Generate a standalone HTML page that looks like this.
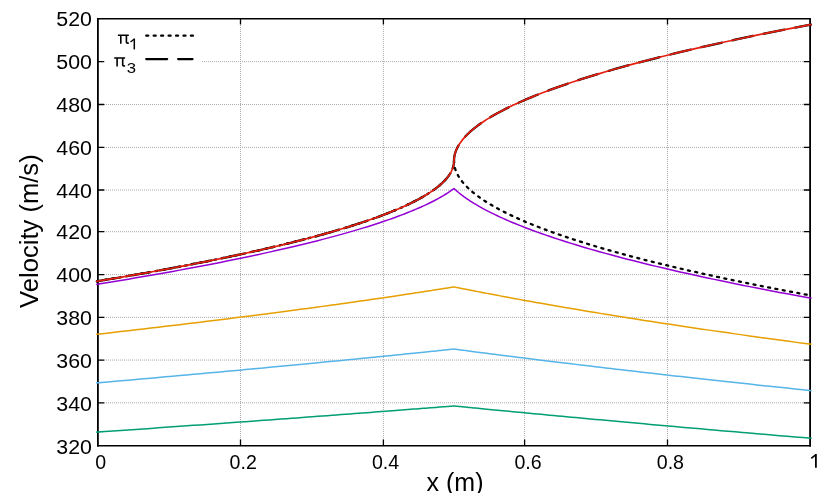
<!DOCTYPE html>
<html><head><meta charset="utf-8"><title>Velocity</title>
<style>
html,body{margin:0;padding:0;background:#fff;}
body{width:830px;height:493px;overflow:hidden;}
svg{display:block;will-change:transform;}
text{font-family:"Liberation Sans",sans-serif;fill:#000;}
</style></head><body>
<svg width="830" height="493" viewBox="0 0 830 493">
<rect width="830" height="493" fill="#fff"/>
<g stroke="#aaaaae" stroke-width="1" stroke-dasharray="1 1" fill="none">
<path d="M240.50,446.00 V18.90"/>
<path d="M383.40,446.00 V18.90"/>
<path d="M524.60,446.00 V18.90"/>
<path d="M667.50,446.00 V18.90"/>
<path d="M98.00,402.80 H810.00"/>
<path d="M98.00,360.05 H810.00"/>
<path d="M98.00,317.35 H810.00"/>
<path d="M98.00,274.60 H810.00"/>
<path d="M98.00,231.70 H810.00"/>
<path d="M98.00,190.00 H810.00"/>
<path d="M98.00,147.40 H810.00"/>
<path d="M98.00,104.50 H810.00"/>
<path d="M202.00,61.60 H810.00"/>
</g>
<g stroke="#000" stroke-width="1.30" fill="none">
<path d="M240.50,446 V439.4 M240.50,18.2 V24.6"/>
<path d="M383.40,446 V439.4 M383.40,18.2 V24.6"/>
<path d="M524.60,446 V439.4 M524.60,18.2 V24.6"/>
<path d="M667.50,446 V439.4 M667.50,18.2 V24.6"/>
<path d="M97.5,402.80 H104.25 M810.5,402.80 H803.75"/>
<path d="M97.5,360.05 H104.25 M810.5,360.05 H803.75"/>
<path d="M97.5,317.35 H104.25 M810.5,317.35 H803.75"/>
<path d="M97.5,274.60 H104.25 M810.5,274.60 H803.75"/>
<path d="M97.5,231.70 H104.25 M810.5,231.70 H803.75"/>
<path d="M97.5,190.00 H104.25 M810.5,190.00 H803.75"/>
<path d="M97.5,147.40 H104.25 M810.5,147.40 H803.75"/>
<path d="M97.5,104.50 H104.25 M810.5,104.50 H803.75"/>
<path d="M97.5,61.60 H104.25 M810.5,61.60 H803.75"/>
</g>
<g font-size="19.60">
<text transform="translate(92.00,453.55) scale(1.090,1)" text-anchor="end">320</text>
<text transform="translate(92.00,410.81) scale(1.090,1)" text-anchor="end">340</text>
<text transform="translate(92.00,367.97) scale(1.090,1)" text-anchor="end">360</text>
<text transform="translate(92.00,325.18) scale(1.090,1)" text-anchor="end">380</text>
<text transform="translate(92.00,282.34) scale(1.090,1)" text-anchor="end">400</text>
<text transform="translate(92.00,239.35) scale(1.090,1)" text-anchor="end">420</text>
<text transform="translate(92.00,197.56) scale(1.090,1)" text-anchor="end">440</text>
<text transform="translate(92.00,154.87) scale(1.090,1)" text-anchor="end">460</text>
<text transform="translate(92.00,111.88) scale(1.090,1)" text-anchor="end">480</text>
<text transform="translate(92.00,68.89) scale(1.090,1)" text-anchor="end">500</text>
<text transform="translate(92.00,26.10) scale(1.090,1)" text-anchor="end">520</text>
<text x="100.80" y="468.50" text-anchor="middle">0</text>
<text x="243.20" y="468.50" text-anchor="middle">0.2</text>
<text x="385.60" y="468.50" text-anchor="middle">0.4</text>
<text x="528.00" y="468.50" text-anchor="middle">0.6</text>
<text x="670.40" y="468.50" text-anchor="middle">0.8</text>
</g>
<path d="M815.9,454.0 V467.8" stroke="#000" stroke-width="1.8" fill="none"/><path d="M811.3,458.3 L815.6,454.9" stroke="#000" stroke-width="1.6" fill="none"/>
<text x="455.00" y="490.80" font-size="25.00" text-anchor="middle">x (m)</text>
<text transform="translate(37.50,231.10) rotate(-90)" font-size="25.60" text-anchor="middle">Velocity (m/s)</text>
<g fill="#000"><rect x="97" y="18.0" width="714" height="1.5"/><rect x="97" y="445.0" width="714" height="1.5"/><rect x="97.0" y="18" width="1.8" height="428.6"/><rect x="809.2" y="18" width="1.8" height="428.6"/></g>
<g fill="none" stroke-linejoin="round" stroke-linecap="butt">
<path d="M96.93,284.32 L104.91,283.03 L112.80,281.74 L120.60,280.45 L128.31,279.16 L135.93,277.86 L143.45,276.57 L150.89,275.28 L158.24,273.99 L165.50,272.70 L172.66,271.41 L179.74,270.12 L186.73,268.83 L193.63,267.54 L200.43,266.25 L207.15,264.96 L213.78,263.67 L220.31,262.39 L226.76,261.10 L233.11,259.81 L239.38,258.53 L245.56,257.24 L251.64,255.96 L257.64,254.68 L263.54,253.39 L269.36,252.11 L275.08,250.83 L280.72,249.56 L286.26,248.28 L291.72,247.00 L297.08,245.73 L302.36,244.46 L307.54,243.19 L312.63,241.92 L317.64,240.65 L322.55,239.39 L327.37,238.13 L332.11,236.87 L336.75,235.61 L341.30,234.36 L345.77,233.11 L350.14,231.86 L354.42,230.62 L358.61,229.38 L362.72,228.14 L366.73,226.91 L370.65,225.68 L374.48,224.46 L378.22,223.24 L381.87,222.02 L385.44,220.82 L388.91,219.62 L392.29,218.42 L395.58,217.23 L398.78,216.05 L401.89,214.88 L404.91,213.72 L407.84,212.57 L410.68,211.42 L413.43,210.29 L416.09,209.17 L418.66,208.06 L421.14,206.96 L423.53,205.88 L425.83,204.81 L428.03,203.76 L430.15,202.73 L432.18,201.71 L434.12,200.72 L435.97,199.75 L437.73,198.80 L439.39,197.88 L440.97,196.99 L442.46,196.12 L443.86,195.29 L445.16,194.50 L446.38,193.74 L447.51,193.02 L448.55,192.34 L449.49,191.71 L450.35,191.13 L451.11,190.60 L451.79,190.13 L452.38,189.71 L452.87,189.35 L453.28,189.05 L453.59,188.82 L453.82,188.65 L453.95,188.55 L454.00,188.52 L454.05,188.56 L454.18,188.69 L454.41,188.90 L454.72,189.19 L455.13,189.56 L455.62,190.01 L456.21,190.53 L456.88,191.11 L457.65,191.77 L458.51,192.48 L459.45,193.25 L460.49,194.07 L461.61,194.95 L462.83,195.86 L464.14,196.82 L465.53,197.82 L467.02,198.85 L468.60,199.91 L470.26,201.01 L472.02,202.13 L473.87,203.28 L475.81,204.45 L477.83,205.64 L479.95,206.85 L482.16,208.08 L484.45,209.32 L486.84,210.58 L489.32,211.86 L491.89,213.14 L494.55,214.44 L497.29,215.75 L500.13,217.08 L503.06,218.41 L506.08,219.74 L509.19,221.09 L512.39,222.45 L515.68,223.81 L519.05,225.18 L522.52,226.55 L526.08,227.93 L529.73,229.32 L533.47,230.71 L537.30,232.10 L541.22,233.50 L545.23,234.90 L549.33,236.31 L553.52,237.72 L557.80,239.13 L562.17,240.55 L566.63,241.97 L571.18,243.39 L575.82,244.82 L580.55,246.24 L585.37,247.67 L590.28,249.10 L595.28,250.53 L600.37,251.97 L605.55,253.40 L610.82,254.84 L616.19,256.28 L621.64,257.72 L627.18,259.16 L632.81,260.60 L638.53,262.04 L644.34,263.48 L650.25,264.93 L656.24,266.37 L662.32,267.82 L668.49,269.26 L674.75,270.71 L681.11,272.15 L687.55,273.60 L694.08,275.05 L700.70,276.49 L707.42,277.94 L714.22,279.39 L721.11,280.84 L728.09,282.28 L735.17,283.73 L742.33,285.18 L749.58,286.63 L756.93,288.07 L764.36,289.52 L771.88,290.97 L779.50,292.41 L787.20,293.86 L795.00,295.30 L802.88,296.75 L810.85,298.20" stroke="#9400d3" stroke-width="1.50" stroke-linecap="square"/>
<path d="M96.93,432.11 L104.91,431.56 L112.80,431.02 L120.60,430.48 L128.31,429.95 L135.93,429.42 L143.45,428.89 L150.89,428.38 L158.24,427.86 L165.50,427.35 L172.66,426.85 L179.74,426.35 L186.73,425.86 L193.63,425.37 L200.43,424.88 L207.15,424.41 L213.78,423.93 L220.31,423.47 L226.76,423.00 L233.11,422.55 L239.38,422.10 L245.56,421.65 L251.64,421.21 L257.64,420.78 L263.54,420.35 L269.36,419.92 L275.08,419.50 L280.72,419.09 L286.26,418.69 L291.72,418.29 L297.08,417.89 L302.36,417.50 L307.54,417.12 L312.63,416.74 L317.64,416.37 L322.55,416.00 L327.37,415.65 L332.11,415.29 L336.75,414.95 L341.30,414.60 L345.77,414.27 L350.14,413.94 L354.42,413.62 L358.61,413.30 L362.72,412.99 L366.73,412.69 L370.65,412.39 L374.48,412.10 L378.22,411.82 L381.87,411.54 L385.44,411.27 L388.91,411.00 L392.29,410.74 L395.58,410.49 L398.78,410.25 L401.89,410.01 L404.91,409.78 L407.84,409.55 L410.68,409.33 L413.43,409.12 L416.09,408.92 L418.66,408.72 L421.14,408.53 L423.53,408.34 L425.83,408.16 L428.03,407.99 L430.15,407.83 L432.18,407.67 L434.12,407.52 L435.97,407.38 L437.73,407.24 L439.39,407.11 L440.97,406.99 L442.46,406.87 L443.86,406.76 L445.16,406.66 L446.38,406.56 L447.51,406.47 L448.55,406.39 L449.49,406.32 L450.35,406.25 L451.11,406.19 L451.79,406.14 L452.38,406.09 L452.87,406.05 L453.28,406.02 L453.59,406.00 L453.82,405.98 L453.95,405.97 L454.00,405.97 L454.05,405.97 L454.18,405.98 L454.41,406.01 L454.72,406.04 L455.13,406.08 L455.62,406.13 L456.21,406.18 L456.88,406.25 L457.65,406.33 L458.51,406.41 L459.45,406.50 L460.49,406.60 L461.61,406.72 L462.83,406.83 L464.14,406.96 L465.53,407.10 L467.02,407.25 L468.60,407.40 L470.26,407.56 L472.02,407.73 L473.87,407.91 L475.81,408.10 L477.83,408.30 L479.95,408.51 L482.16,408.72 L484.45,408.94 L486.84,409.18 L489.32,409.42 L491.89,409.66 L494.55,409.92 L497.29,410.19 L500.13,410.46 L503.06,410.74 L506.08,411.03 L509.19,411.33 L512.39,411.64 L515.68,411.95 L519.05,412.27 L522.52,412.60 L526.08,412.94 L529.73,413.29 L533.47,413.64 L537.30,414.00 L541.22,414.37 L545.23,414.75 L549.33,415.14 L553.52,415.53 L557.80,415.93 L562.17,416.34 L566.63,416.76 L571.18,417.18 L575.82,417.61 L580.55,418.05 L585.37,418.49 L590.28,418.95 L595.28,419.41 L600.37,419.87 L605.55,420.35 L610.82,420.83 L616.19,421.32 L621.64,421.81 L627.18,422.32 L632.81,422.83 L638.53,423.34 L644.34,423.86 L650.25,424.39 L656.24,424.93 L662.32,425.47 L668.49,426.02 L674.75,426.58 L681.11,427.14 L687.55,427.71 L694.08,428.28 L700.70,428.86 L707.42,429.45 L714.22,430.04 L721.11,430.64 L728.09,431.25 L735.17,431.86 L742.33,432.47 L749.58,433.10 L756.93,433.73 L764.36,434.36 L771.88,435.00 L779.50,435.64 L787.20,436.30 L795.00,436.95 L802.88,437.61 L810.85,438.28" stroke="#009e73" stroke-width="1.50" stroke-linecap="square"/>
<path d="M96.93,382.86 L104.91,382.17 L112.80,381.49 L120.60,380.81 L128.31,380.14 L135.93,379.48 L143.45,378.81 L150.89,378.16 L158.24,377.51 L165.50,376.86 L172.66,376.23 L179.74,375.59 L186.73,374.96 L193.63,374.34 L200.43,373.73 L207.15,373.12 L213.78,372.52 L220.31,371.92 L226.76,371.33 L233.11,370.74 L239.38,370.16 L245.56,369.59 L251.64,369.03 L257.64,368.47 L263.54,367.92 L269.36,367.37 L275.08,366.83 L280.72,366.30 L286.26,365.77 L291.72,365.26 L297.08,364.75 L302.36,364.24 L307.54,363.74 L312.63,363.25 L317.64,362.77 L322.55,362.30 L327.37,361.83 L332.11,361.37 L336.75,360.92 L341.30,360.47 L345.77,360.03 L350.14,359.60 L354.42,359.18 L358.61,358.77 L362.72,358.36 L366.73,357.96 L370.65,357.57 L374.48,357.19 L378.22,356.82 L381.87,356.45 L385.44,356.09 L388.91,355.74 L392.29,355.40 L395.58,355.07 L398.78,354.75 L401.89,354.43 L404.91,354.12 L407.84,353.83 L410.68,353.54 L413.43,353.26 L416.09,352.98 L418.66,352.72 L421.14,352.47 L423.53,352.22 L425.83,351.98 L428.03,351.75 L430.15,351.54 L432.18,351.33 L434.12,351.13 L435.97,350.93 L437.73,350.75 L439.39,350.58 L440.97,350.41 L442.46,350.26 L443.86,350.11 L445.16,349.98 L446.38,349.85 L447.51,349.73 L448.55,349.62 L449.49,349.52 L450.35,349.43 L451.11,349.35 L451.79,349.28 L452.38,349.22 L452.87,349.17 L453.28,349.13 L453.59,349.09 L453.82,349.07 L453.95,349.06 L454.00,349.05 L454.05,349.06 L454.18,349.08 L454.41,349.11 L454.72,349.15 L455.13,349.20 L455.62,349.27 L456.21,349.34 L456.88,349.43 L457.65,349.53 L458.51,349.65 L459.45,349.77 L460.49,349.91 L461.61,350.05 L462.83,350.21 L464.14,350.38 L465.53,350.57 L467.02,350.76 L468.60,350.97 L470.26,351.18 L472.02,351.41 L473.87,351.65 L475.81,351.90 L477.83,352.17 L479.95,352.44 L482.16,352.72 L484.45,353.02 L486.84,353.33 L489.32,353.65 L491.89,353.98 L494.55,354.31 L497.29,354.67 L500.13,355.03 L503.06,355.40 L506.08,355.78 L509.19,356.17 L512.39,356.58 L515.68,356.99 L519.05,357.42 L522.52,357.85 L526.08,358.29 L529.73,358.75 L533.47,359.21 L537.30,359.69 L541.22,360.17 L545.23,360.66 L549.33,361.17 L553.52,361.68 L557.80,362.20 L562.17,362.73 L566.63,363.27 L571.18,363.82 L575.82,364.38 L580.55,364.95 L585.37,365.53 L590.28,366.11 L595.28,366.71 L600.37,367.31 L605.55,367.92 L610.82,368.54 L616.19,369.17 L621.64,369.80 L627.18,370.45 L632.81,371.10 L638.53,371.76 L644.34,372.43 L650.25,373.10 L656.24,373.79 L662.32,374.48 L668.49,375.17 L674.75,375.88 L681.11,376.59 L687.55,377.31 L694.08,378.04 L700.70,378.77 L707.42,379.51 L714.22,380.26 L721.11,381.02 L728.09,381.78 L735.17,382.55 L742.33,383.32 L749.58,384.10 L756.93,384.89 L764.36,385.68 L771.88,386.48 L779.50,387.28 L787.20,388.09 L795.00,388.91 L802.88,389.73 L810.85,390.56" stroke="#56b4e9" stroke-width="1.50" stroke-linecap="square"/>
<path d="M96.93,334.28 L104.91,333.38 L112.80,332.49 L120.60,331.60 L128.31,330.71 L135.93,329.83 L143.45,328.96 L150.89,328.09 L158.24,327.22 L165.50,326.36 L172.66,325.51 L179.74,324.66 L186.73,323.82 L193.63,322.98 L200.43,322.16 L207.15,321.33 L213.78,320.52 L220.31,319.71 L226.76,318.90 L233.11,318.10 L239.38,317.31 L245.56,316.53 L251.64,315.75 L257.64,314.99 L263.54,314.22 L269.36,313.47 L275.08,312.72 L280.72,311.98 L286.26,311.25 L291.72,310.53 L297.08,309.82 L302.36,309.11 L307.54,308.41 L312.63,307.72 L317.64,307.04 L322.55,306.37 L327.37,305.71 L332.11,305.05 L336.75,304.41 L341.30,303.77 L345.77,303.15 L350.14,302.53 L354.42,301.92 L358.61,301.33 L362.72,300.74 L366.73,300.16 L370.65,299.60 L374.48,299.04 L378.22,298.50 L381.87,297.97 L385.44,297.44 L388.91,296.93 L392.29,296.43 L395.58,295.94 L398.78,295.47 L401.89,295.00 L404.91,294.55 L407.84,294.11 L410.68,293.68 L413.43,293.26 L416.09,292.85 L418.66,292.46 L421.14,292.08 L423.53,291.71 L425.83,291.36 L428.03,291.02 L430.15,290.69 L432.18,290.37 L434.12,290.07 L435.97,289.78 L437.73,289.50 L439.39,289.24 L440.97,288.99 L442.46,288.76 L443.86,288.54 L445.16,288.33 L446.38,288.14 L447.51,287.96 L448.55,287.79 L449.49,287.64 L450.35,287.51 L451.11,287.38 L451.79,287.28 L452.38,287.18 L452.87,287.10 L453.28,287.04 L453.59,286.99 L453.82,286.95 L453.95,286.93 L454.00,286.92 L454.05,286.93 L454.18,286.96 L454.41,287.00 L454.72,287.07 L455.13,287.15 L455.62,287.25 L456.21,287.37 L456.88,287.50 L457.65,287.66 L458.51,287.83 L459.45,288.02 L460.49,288.22 L461.61,288.45 L462.83,288.69 L464.14,288.95 L465.53,289.22 L467.02,289.52 L468.60,289.83 L470.26,290.16 L472.02,290.50 L473.87,290.86 L475.81,291.24 L477.83,291.63 L479.95,292.04 L482.16,292.47 L484.45,292.91 L486.84,293.37 L489.32,293.84 L491.89,294.33 L494.55,294.83 L497.29,295.35 L500.13,295.88 L503.06,296.43 L506.08,296.99 L509.19,297.56 L512.39,298.15 L515.68,298.75 L519.05,299.37 L522.52,300.00 L526.08,300.64 L529.73,301.30 L533.47,301.97 L537.30,302.65 L541.22,303.34 L545.23,304.05 L549.33,304.76 L553.52,305.49 L557.80,306.23 L562.17,306.99 L566.63,307.75 L571.18,308.52 L575.82,309.31 L580.55,310.10 L585.37,310.91 L590.28,311.72 L595.28,312.55 L600.37,313.38 L605.55,314.23 L610.82,315.08 L616.19,315.95 L621.64,316.82 L627.18,317.70 L632.81,318.59 L638.53,319.49 L644.34,320.39 L650.25,321.31 L656.24,322.23 L662.32,323.16 L668.49,324.10 L674.75,325.05 L681.11,326.00 L687.55,326.96 L694.08,327.93 L700.70,328.90 L707.42,329.88 L714.22,330.87 L721.11,331.86 L728.09,332.86 L735.17,333.87 L742.33,334.88 L749.58,335.90 L756.93,336.93 L764.36,337.95 L771.88,338.99 L779.50,340.03 L787.20,341.08 L795.00,342.13 L802.88,343.18 L810.85,344.24" stroke="#e69f00" stroke-width="1.50" stroke-linecap="square"/>
<path d="M96.93,281.27 L104.91,279.95 L112.80,278.62 L120.60,277.29 L128.31,275.96 L135.93,274.64 L143.45,273.31 L150.89,271.98 L158.24,270.64 L165.50,269.31 L172.66,267.98 L179.74,266.65 L186.73,265.31 L193.63,263.98 L200.43,262.64 L207.15,261.30 L213.78,259.97 L220.31,258.63 L226.76,257.29 L233.11,255.95 L239.38,254.61 L245.56,253.27 L251.64,251.93 L257.64,250.59 L263.54,249.25 L269.36,247.90 L275.08,246.56 L280.72,245.21 L286.26,243.87 L291.72,242.52 L297.08,241.18 L302.36,239.83 L307.54,238.48 L312.63,237.13 L317.64,235.78 L322.55,234.44 L327.37,233.09 L332.11,231.74 L336.75,230.38 L341.30,229.03 L345.77,227.68 L350.14,226.33 L354.42,224.97 L358.61,223.62 L362.72,222.27 L366.73,220.91 L370.65,219.56 L374.48,218.20 L378.22,216.84 L381.87,215.49 L385.44,214.13 L388.91,212.77 L392.29,211.41 L395.58,210.06 L398.78,208.70 L401.89,207.34 L404.91,205.98 L407.84,204.62 L410.68,203.26 L413.43,201.90 L416.09,200.53 L418.66,199.17 L421.14,197.81 L423.53,196.45 L425.83,195.08 L428.03,193.72 L430.15,192.36 L432.18,190.99 L434.12,189.63 L435.97,188.26 L437.73,186.90 L439.39,185.53 L440.97,184.17 L442.46,182.80 L443.86,181.43 L445.16,180.07 L446.38,178.70 L447.51,177.33 L448.55,175.97 L449.49,174.60 L450.35,173.23 L451.11,171.86 L451.79,170.49 L452.38,169.12 L452.87,167.76 L453.28,166.39 L453.59,165.02 L453.82,163.65 L453.95,162.28 L454.00,160.91 L454.05,162.44 L454.18,163.98 L454.41,165.51 L454.72,167.05 L455.13,168.58 L455.62,170.12 L456.21,171.65 L456.88,173.18 L457.65,174.72 L458.51,176.25 L459.45,177.78 L460.49,179.31 L461.61,180.85 L462.83,182.38 L464.14,183.91 L465.53,185.44 L467.02,186.97 L468.60,188.50 L470.26,190.03 L472.02,191.56 L473.87,193.09 L475.81,194.62 L477.83,196.14 L479.95,197.67 L482.16,199.20 L484.45,200.73 L486.84,202.25 L489.32,203.78 L491.89,205.30 L494.55,206.83 L497.29,208.35 L500.13,209.87 L503.06,211.40 L506.08,212.92 L509.19,214.44 L512.39,215.96 L515.68,217.48 L519.05,219.00 L522.52,220.52 L526.08,222.04 L529.73,223.56 L533.47,225.07 L537.30,226.59 L541.22,228.11 L545.23,229.62 L549.33,231.14 L553.52,232.65 L557.80,234.16 L562.17,235.68 L566.63,237.19 L571.18,238.70 L575.82,240.21 L580.55,241.72 L585.37,243.23 L590.28,244.73 L595.28,246.24 L600.37,247.75 L605.55,249.25 L610.82,250.76 L616.19,252.26 L621.64,253.76 L627.18,255.27 L632.81,256.77 L638.53,258.27 L644.34,259.77 L650.25,261.27 L656.24,262.77 L662.32,264.26 L668.49,265.76 L674.75,267.25 L681.11,268.75 L687.55,270.24 L694.08,271.73 L700.70,273.22 L707.42,274.71 L714.22,276.20 L721.11,277.69 L728.09,279.18 L735.17,280.67 L742.33,282.15 L749.58,283.64 L756.93,285.12 L764.36,286.60 L771.88,288.08 L779.50,289.56 L787.20,291.04 L795.00,292.52 L802.88,294.00 L810.85,295.47" stroke="#000" stroke-width="2.30" stroke-dasharray="2.0 5.45" stroke-linecap="round"/>
<path d="M96.93,281.27 L104.91,279.95 L112.80,278.62 L120.60,277.29 L128.31,275.96 L135.93,274.64 L143.45,273.31 L150.89,271.98 L158.24,270.64 L165.50,269.31 L172.66,267.98 L179.74,266.65 L186.73,265.31 L193.63,263.98 L200.43,262.64 L207.15,261.30 L213.78,259.97 L220.31,258.63 L226.76,257.29 L233.11,255.95 L239.38,254.61 L245.56,253.27 L251.64,251.93 L257.64,250.59 L263.54,249.25 L269.36,247.90 L275.08,246.56 L280.72,245.21 L286.26,243.87 L291.72,242.52 L297.08,241.18 L302.36,239.83 L307.54,238.48 L312.63,237.13 L317.64,235.78 L322.55,234.44 L327.37,233.09 L332.11,231.74 L336.75,230.38 L341.30,229.03 L345.77,227.68 L350.14,226.33 L354.42,224.97 L358.61,223.62 L362.72,222.27 L366.73,220.91 L370.65,219.56 L374.48,218.20 L378.22,216.84 L381.87,215.49 L385.44,214.13 L388.91,212.77 L392.29,211.41 L395.58,210.06 L398.78,208.70 L401.89,207.34 L404.91,205.98 L407.84,204.62 L410.68,203.26 L413.43,201.90 L416.09,200.53 L418.66,199.17 L421.14,197.81 L423.53,196.45 L425.83,195.08 L428.03,193.72 L430.15,192.36 L432.18,190.99 L434.12,189.63 L435.97,188.26 L437.73,186.90 L439.39,185.53 L440.97,184.17 L442.46,182.80 L443.86,181.43 L445.16,180.07 L446.38,178.70 L447.51,177.33 L448.55,175.97 L449.49,174.60 L450.35,173.23 L451.11,171.86 L451.79,170.49 L452.38,169.12 L452.87,167.76 L453.28,166.39 L453.59,165.02 L453.82,163.65 L453.95,162.28 L454.00,160.91 L454.05,159.37 L454.18,157.84 L454.41,156.30 L454.72,154.76 L455.13,153.23 L455.62,151.69 L456.21,150.15 L456.88,148.62 L457.65,147.08 L458.51,145.54 L459.45,144.00 L460.49,142.47 L461.61,140.93 L462.83,139.39 L464.14,137.85 L465.53,136.32 L467.02,134.78 L468.60,133.24 L470.26,131.70 L472.02,130.16 L473.87,128.62 L475.81,127.09 L477.83,125.55 L479.95,124.01 L482.16,122.47 L484.45,120.93 L486.84,119.40 L489.32,117.86 L491.89,116.32 L494.55,114.78 L497.29,113.24 L500.13,111.71 L503.06,110.17 L506.08,108.63 L509.19,107.09 L512.39,105.56 L515.68,104.02 L519.05,102.48 L522.52,100.95 L526.08,99.41 L529.73,97.87 L533.47,96.34 L537.30,94.80 L541.22,93.27 L545.23,91.73 L549.33,90.20 L553.52,88.66 L557.80,87.13 L562.17,85.59 L566.63,84.06 L571.18,82.52 L575.82,80.99 L580.55,79.46 L585.37,77.92 L590.28,76.39 L595.28,74.86 L600.37,73.33 L605.55,71.79 L610.82,70.26 L616.19,68.73 L621.64,67.20 L627.18,65.67 L632.81,64.14 L638.53,62.61 L644.34,61.08 L650.25,59.55 L656.24,58.03 L662.32,56.50 L668.49,54.97 L674.75,53.44 L681.11,51.92 L687.55,50.39 L694.08,48.87 L700.70,47.34 L707.42,45.82 L714.22,44.29 L721.11,42.77 L728.09,41.25 L735.17,39.73 L742.33,38.21 L749.58,36.68 L756.93,35.16 L764.36,33.64 L771.88,32.12 L779.50,30.61 L787.20,29.09 L795.00,27.57 L802.88,26.05 L810.85,24.54" stroke="#000" stroke-width="2.30" stroke-dasharray="20.9 11.0" stroke-linecap="round"/>
<path d="M96.93,281.27 L104.91,279.95 L112.80,278.62 L120.60,277.29 L128.31,275.96 L135.93,274.64 L143.45,273.31 L150.89,271.98 L158.24,270.64 L165.50,269.31 L172.66,267.98 L179.74,266.65 L186.73,265.31 L193.63,263.98 L200.43,262.64 L207.15,261.30 L213.78,259.97 L220.31,258.63 L226.76,257.29 L233.11,255.95 L239.38,254.61 L245.56,253.27 L251.64,251.93 L257.64,250.59 L263.54,249.25 L269.36,247.90 L275.08,246.56 L280.72,245.21 L286.26,243.87 L291.72,242.52 L297.08,241.18 L302.36,239.83 L307.54,238.48 L312.63,237.13 L317.64,235.78 L322.55,234.44 L327.37,233.09 L332.11,231.74 L336.75,230.38 L341.30,229.03 L345.77,227.68 L350.14,226.33 L354.42,224.97 L358.61,223.62 L362.72,222.27 L366.73,220.91 L370.65,219.56 L374.48,218.20 L378.22,216.84 L381.87,215.49 L385.44,214.13 L388.91,212.77 L392.29,211.41 L395.58,210.06 L398.78,208.70 L401.89,207.34 L404.91,205.98 L407.84,204.62 L410.68,203.26 L413.43,201.90 L416.09,200.53 L418.66,199.17 L421.14,197.81 L423.53,196.45 L425.83,195.08 L428.03,193.72 L430.15,192.36 L432.18,190.99 L434.12,189.63 L435.97,188.26 L437.73,186.90 L439.39,185.53 L440.97,184.17 L442.46,182.80 L443.86,181.43 L445.16,180.07 L446.38,178.70 L447.51,177.33 L448.55,175.97 L449.49,174.60 L450.35,173.23 L451.11,171.86 L451.79,170.49 L452.38,169.12 L452.87,167.76 L453.28,166.39 L453.59,165.02 L453.82,163.65 L453.95,162.28 L454.00,160.91 L454.05,159.37 L454.18,157.84 L454.41,156.30 L454.72,154.76 L455.13,153.23 L455.62,151.69 L456.21,150.15 L456.88,148.62 L457.65,147.08 L458.51,145.54 L459.45,144.00 L460.49,142.47 L461.61,140.93 L462.83,139.39 L464.14,137.85 L465.53,136.32 L467.02,134.78 L468.60,133.24 L470.26,131.70 L472.02,130.16 L473.87,128.62 L475.81,127.09 L477.83,125.55 L479.95,124.01 L482.16,122.47 L484.45,120.93 L486.84,119.40 L489.32,117.86 L491.89,116.32 L494.55,114.78 L497.29,113.24 L500.13,111.71 L503.06,110.17 L506.08,108.63 L509.19,107.09 L512.39,105.56 L515.68,104.02 L519.05,102.48 L522.52,100.95 L526.08,99.41 L529.73,97.87 L533.47,96.34 L537.30,94.80 L541.22,93.27 L545.23,91.73 L549.33,90.20 L553.52,88.66 L557.80,87.13 L562.17,85.59 L566.63,84.06 L571.18,82.52 L575.82,80.99 L580.55,79.46 L585.37,77.92 L590.28,76.39 L595.28,74.86 L600.37,73.33 L605.55,71.79 L610.82,70.26 L616.19,68.73 L621.64,67.20 L627.18,65.67 L632.81,64.14 L638.53,62.61 L644.34,61.08 L650.25,59.55 L656.24,58.03 L662.32,56.50 L668.49,54.97 L674.75,53.44 L681.11,51.92 L687.55,50.39 L694.08,48.87 L700.70,47.34 L707.42,45.82 L714.22,44.29 L721.11,42.77 L728.09,41.25 L735.17,39.73 L742.33,38.21 L749.58,36.68 L756.93,35.16 L764.36,33.64 L771.88,32.12 L779.50,30.61 L787.20,29.09 L795.00,27.57 L802.88,26.05 L810.85,24.54" stroke="#e51e10" stroke-width="1.70" stroke-linecap="square"/>
<path d="M146.25,35.7 H193.8" stroke="#000" stroke-width="2.30" stroke-dasharray="2.0 5.45" stroke-linecap="round"/>
<path d="M146.25,59.1 H192.5" stroke="#000" stroke-width="2.30" stroke-dasharray="20.9 11.0" stroke-linecap="round"/>
</g>
<path d="M117.90,35.20 H128.80 M120.80,35.20 V43.80 M126.40,35.20 V42.10 Q126.40,43.30 128.80,43.10 M114.20,58.00 H125.10 M117.10,58.00 V66.60 M122.70,58.00 V64.90 Q122.70,66.10 125.10,65.90" fill="none" stroke="#000" stroke-width="1.6"/>
<path d="M134.3,38.5 V49.4" stroke="#000" stroke-width="1.5" fill="none"/><path d="M130.5,42.0 L134.0,39.2" stroke="#000" stroke-width="1.35" fill="none"/>
<text transform="translate(136.00,73.00) scale(1.090,1)" font-size="15.30" text-anchor="end">3</text>
</svg>
</body></html>
